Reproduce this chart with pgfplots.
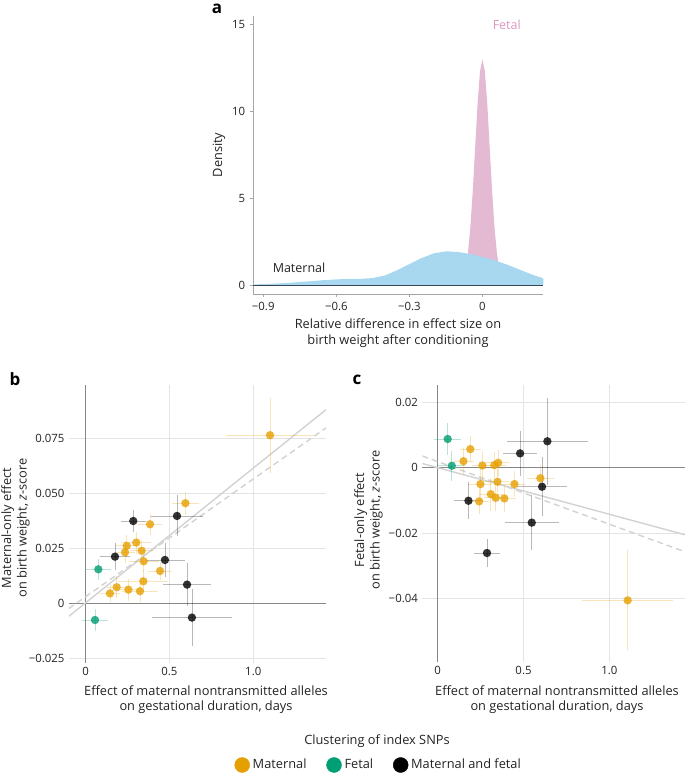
\documentclass[border=0pt]{standalone}
\usepackage{pgfplots}
\pgfplotsset{compat=1.18}
\usepackage{fontspec}
\setmainfont{Open Sans}
\definecolor{cOr}{RGB}{230,159,0}
\definecolor{cGr}{RGB}{0,158,115}
\definecolor{cBk}{RGB}{0,0,0}
\definecolor{cBlue}{RGB}{168,216,240}
\definecolor{cPink}{RGB}{228,185,210}
\definecolor{cPinkT}{RGB}{222,150,192}
\definecolor{txt}{RGB}{35,35,35}
\definecolor{gridc}{RGB}{228,228,228}
\definecolor{zeroc}{RGB}{135,135,135}
\definecolor{regc}{RGB}{210,210,210}

\pgfplotstableread{
x y ex ey
1.100 0.0764 0.26 0.017
0.595 0.0455 0.08 0.0053
0.384 0.0359 0.072 0.0048
0.302 0.0276 0.09 0.005
0.245 0.0261 0.07 0.005
0.235 0.0232 0.06 0.005
0.334 0.0239 0.07 0.005
0.346 0.0191 0.09 0.005
0.444 0.0147 0.07 0.004
0.344 0.0100 0.15 0.005
0.185 0.0073 0.06 0.005
0.255 0.0062 0.07 0.005
0.324 0.0055 0.11 0.005
0.145 0.0045 0.06 0.004
}\bOr
\pgfplotstableread{
x y ex ey
0.0756 0.01545 0.074 0.0049
0.0557 -0.0076 0.077 0.005
}\bGr
\pgfplotstableread{
x y ex ey
0.284 0.0374 0.074 0.0048
0.545 0.0397 0.157 0.0093
0.175 0.0212 0.09 0.006
0.473 0.0197 0.12 0.0077
0.605 0.0085 0.143 0.0098
0.634 -0.0065 0.238 0.013
}\bBk
\pgfplotstableread{
x y ex ey
1.107 -0.0406 0.265 0.0153
0.598 -0.0032 0.08 0.004
0.447 -0.0050 0.07 0.004
0.388 -0.0094 0.07 0.004
0.352 0.0015 0.07 0.004
0.330 0.0008 0.07 0.004
0.348 -0.0043 0.07 0.004
0.338 -0.0092 0.07 0.004
0.309 -0.0081 0.07 0.005
0.260 0.0007 0.06 0.004
0.249 -0.0050 0.07 0.005
0.241 -0.0103 0.06 0.004
0.190 0.0057 0.06 0.004
0.150 0.0020 0.06 0.004
}\cOrT
\pgfplotstableread{
x y ex ey
0.058 0.0088 0.078 0.0049
0.082 0.0006 0.078 0.0046
}\cGrT
\pgfplotstableread{
x y ex ey
0.639 0.0081 0.236 0.0134
0.480 0.0044 0.097 0.0070
0.548 -0.0168 0.158 0.0084
0.608 -0.0058 0.146 0.0090
0.179 -0.0101 0.087 0.0056
0.287 -0.0261 0.073 0.0042
}\cBkT

\pgfplotsset{
  scat/.style={only marks, mark=*, mark size=4.2pt, color=#1,
    mark options={fill=#1, fill opacity=0.8, draw opacity=0},
    error bars/.cd, x dir=both, x explicit, y dir=both, y explicit,
    error mark=none, error bar style={line width=0.8pt, draw=#1, opacity=0.28}},
  scatax/.style={scale only axis, axis line style={draw=none}, tick style={draw=none},
    scaled ticks=false,
    grid=major, grid style={gridc, line width=0.7pt},
    extra tick style={grid style={zeroc, line width=0.9pt}},
    ticklabel style={font=\fontsize{11.4}{13}\selectfont, text=txt},
    /pgf/number format/assume math mode=true, clip=true},
}

\begin{document}
\fontsize{12.8}{15}\selectfont
\begin{tikzpicture}[x=1pt,y=1pt]
\useasboundingbox (0,0) rectangle (685,773);

% ---------- panel a ----------
\begin{axis}[at={(253pt,479pt)}, anchor=south west, scale only axis,
  width=290.3pt, height=278pt,
  xmin=-0.942, xmax=0.25, ymin=-0.52, ymax=15.5,
  axis lines*=left, axis line style={draw=gray!70, line width=0.7pt},
  xtick={-0.9,-0.6,-0.3,0}, ytick={0,5,10,15},
  xticklabels={−0.9,−0.6,−0.3,0},
  tick align=outside, major tick length=3.5pt, tick style={gray!70, line width=0.7pt},
  ticklabel style={font=\fontsize{11.4}{13}\selectfont, text=txt},
  /pgf/number format/assume math mode=true, clip=false]
\addplot[draw=none, fill=cPink] coordinates {
(-0.10,0) (-0.09,0.15) (-0.08,0.37) (-0.07,0.86) (-0.06,1.76) (-0.05,3.24) (-0.04,5.34) (-0.03,7.88) (-0.02,10.41) (-0.01,12.30) (0,13.0)
(0.01,12.30) (0.02,10.41) (0.03,7.88) (0.04,5.34) (0.05,3.24) (0.06,1.76) (0.07,0.86) (0.08,0.37) (0.09,0.15) (0.10,0)} -- cycle;
\addplot[draw=none, fill=cBlue] coordinates {
(-0.942,0) (-0.942,0.03) (-0.9,0.05) (-0.85,0.08) (-0.8,0.12) (-0.75,0.17) (-0.7,0.22) (-0.65,0.28) (-0.6,0.32) (-0.55,0.35) (-0.5,0.35)
(-0.45,0.40) (-0.4,0.55) (-0.35,0.85) (-0.3,1.2) (-0.25,1.55) (-0.2,1.82) (-0.15,1.94) (-0.1,1.9) (-0.05,1.78) (0,1.62)
(0.05,1.42) (0.1,1.18) (0.15,0.9) (0.2,0.62) (0.25,0.38) (0.25,0)} -- cycle;
\addplot[draw={rgb,255:red,55;green,70;blue,85}, line width=0.8pt] coordinates {(-0.942,0) (0.25,0)};
\node[text=cPinkT, font=\fontsize{12.5}{14}\selectfont] at (axis cs:0.1,15) {Fetal};
\node[text=txt, font=\fontsize{12.5}{14}\selectfont] at (axis cs:-0.753,0.96) {Maternal};
\end{axis}

% ---------- panel b ----------
\begin{axis}[scatax, at={(68.9pt,110.3pt)}, anchor=south west,
  width=257.1pt, height=277.2pt,
  xmin=-0.1, xmax=1.434, ymin=-0.027, ymax=0.099,
  xtick={0,0.5,1}, xticklabels={0,0.5,1.0},
  ytick={-0.025,0,0.025,0.05,0.075}, yticklabels={−0.025,0,0.025,0.050,0.075},
  extra x ticks={0}, extra x tick labels={}, extra y ticks={0}, extra y tick labels={}]
\addplot[regc, line width=1.4pt] coordinates {(-0.1,-0.0059) (1.434,0.0880)};
\addplot[regc, line width=1.4pt, dash pattern=on 6pt off 4pt] coordinates {(-0.1,-0.00235) (1.434,0.0797)};
\addplot[scat=cOr] table[x=x,y=y,x error=ex,y error=ey] {\bOr};
\addplot[scat=cGr] table[x=x,y=y,x error=ex,y error=ey] {\bGr};
\addplot[scat=cBk] table[x=x,y=y,x error=ex,y error=ey] {\bBk};
\end{axis}

% ---------- panel c ----------
\begin{axis}[scatax, at={(422.3pt,111.2pt)}, anchor=south west,
  width=262.5pt, height=276.7pt,
  xmin=-0.09, xmax=1.44, ymin=-0.0594, ymax=0.0253,
  xtick={0,0.5,1}, xticklabels={0,0.5,1.0},
  ytick={-0.04,-0.02,0,0.02}, yticklabels={−0.04,−0.02,0,0.02},
  extra x ticks={0}, extra x tick labels={}, extra y ticks={0}, extra y tick labels={}]
\addplot[regc, line width=1.4pt] coordinates {(-0.09,0.0013) (1.44,-0.0205)};
\addplot[regc, line width=1.4pt, dash pattern=on 6pt off 4pt] coordinates {(-0.09,0.0036) (1.44,-0.0257)};
\addplot[scat=cOr] table[x=x,y=y,x error=ex,y error=ey] {\cOrT};
\addplot[scat=cGr] table[x=x,y=y,x error=ex,y error=ey] {\cGrT};
\addplot[scat=cBk] table[x=x,y=y,x error=ex,y error=ey] {\cBkT};
\end{axis}

% ---------- legend ----------
\begin{axis}[at={(234.5pt,0pt)}, anchor=south west, scale only axis, width=10pt, height=10pt,
  hide axis, xmin=0, xmax=1, ymin=0, ymax=1,
  legend columns=3,
  legend style={at={(0,8pt)}, anchor=west, draw=none, fill=none, inner sep=0pt,
    font=\fontsize{12.8}{14}\selectfont, text=txt,
    /tikz/every odd column/.append style={column sep=1pt},
    /tikz/every even column/.append style={column sep=18pt}},
  legend cell align=left]
\addlegendimage{only marks, mark=*, mark size=7.5pt, cOr}
\addlegendentry{Maternal}
\addlegendimage{only marks, mark=*, mark size=7.5pt, cGr}
\addlegendentry{Fetal}
\addlegendimage{only marks, mark=*, mark size=7.5pt, cBk}
\addlegendentry{Maternal and fetal}
\end{axis}

% ---------- labels ----------
\begin{scope}[every node/.style={text=txt, font=\fontsize{12.8}{15.5}\selectfont, align=center}]
\node[rotate=90] at (219,618) {Density};
\node at (398,440) {Relative difference in effect size on\\birth weight after conditioning};
\node at (206,73.5) {Effect of maternal nontransmitted alleles\\on gestational duration, days};
\node at (557,73.5) {Effect of maternal nontransmitted alleles\\on gestational duration, days};
\node[rotate=90] at (15.5,245) {Maternal-only effect\\on birth weight, \textit{z}-score};
\node[rotate=90] at (368.5,253) {Fetal-only effect\\on birth weight, \textit{z}-score};
\node at (377,32) {Clustering of index SNPs};
\end{scope}
\node[font=\fontsize{17}{17}\bfseries] at (217,764) {a};
\node[font=\fontsize{17}{17}\bfseries] at (15,394) {b};
\node[font=\fontsize{17}{17}\bfseries] at (357,393) {c};
\end{tikzpicture}
\end{document}
